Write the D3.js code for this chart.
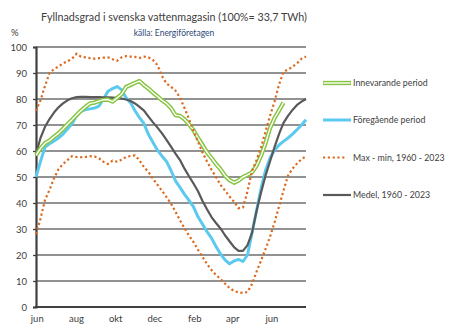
<!DOCTYPE html>
<html>
<head>
<meta charset="utf-8">
<script src="https://cdn.jsdelivr.net/npm/d3@7"></script>
<style>
  body { margin: 0; background: #fff; }
  svg { display: block; }
  text { font-family: Lato, "Open Sans", sans-serif; }
</style>
</head>
<body>
<div id="chart"></div>
<script>
// Weekly values, week 0 = first week of june
const innevarande = [58.3, 61, 63, 64, 65.5, 66.8, 68.5, 70.3, 72, 73.8, 75.5, 77, 78.3, 78.6, 79.2, 79.7,
    79.8, 79, 80.4, 81.8, 84.6, 85.4, 86.2, 86.9, 85.3, 84, 82.4, 81, 79.5, 78.3, 76.5, 73.8,
    73.5, 72.2, 70.3, 68, 65, 62.3, 59.5, 57.3, 55, 53, 50.5, 48.8, 47.8, 48.6, 50, 50.8,
    51.8, 54.3, 58.2, 63, 68.8, 72.6, 75.6, 78.6];
const foregaende = [50, 56, 61.5, 62.8, 63.8, 65, 66.5, 68.5, 70.5, 73.5, 75.3, 75.9, 76.2, 76.5, 77.3, 80,
    83, 84, 84.8, 83.6, 80.5, 78.6, 75.5, 72.8, 70.5, 66.3, 63.3, 60.3, 58, 56, 52.5, 48.5,
    46, 43.3, 41, 38.5, 34.7, 31.8, 29, 26.5, 23.3, 20.4, 18.1, 16.6, 17.7, 18.3, 17.5, 20,
    28.5, 37, 45.5, 52.5, 57.3, 60.3, 62.3, 63.7, 65, 66.5, 68.2, 70, 72];
const maxVarde = [75.5, 79.5, 85, 90, 91.5, 92.5, 93.7, 94.5, 95.5, 97.4, 96.3, 96, 95.7, 95.5, 95.7, 95.9,
    96, 95.3, 94.7, 96, 96.5, 96.3, 96.2, 95.8, 96.3, 96, 95, 93, 88.8, 86, 84.7, 83.2,
    80.5, 76.5, 72.3, 67.8, 63.6, 59.4, 56, 52.8, 50, 47, 44.8, 42.5, 40.5, 38, 38.3, 44.5,
    52.3, 56.5, 61.3, 67.5, 73.5, 79, 85.5, 90.5, 91.3, 92.4, 93.7, 95.5, 96.3];
const minVarde = [28, 34, 41.2, 45, 49.5, 53, 55, 56.5, 58, 57.7, 57.6, 57.7, 58, 57.9, 57.2, 55.8,
    55, 56.3, 55.9, 56.6, 57.7, 58.1, 58.3, 56.4, 53.8, 51.9, 49.3, 47, 44.7, 42.3, 39.8, 36.6,
    33.3, 30.3, 27.5, 25, 22, 19.3, 16.5, 14.2, 12.3, 10.8, 9, 7.3, 6.2, 5.6, 5.4, 5.8,
    8.8, 13.5, 17.8, 22.3, 27, 32.5, 38.6, 44.8, 50.5, 53.2, 55.2, 56.8, 58];
const medel = [59, 65, 69.3, 72.3, 74.8, 76.8, 78.3, 79.5, 80.3, 80.7, 80.8, 80.8, 80.7, 80.7, 80.7, 80.6,
    80.6, 80.5, 80.4, 80.2, 79.8, 79.2, 78.3, 77, 75.5, 73.2, 71, 69, 66.8, 64.3, 61.7, 59,
    56.5, 53.2, 50.3, 47.5, 44.5, 40.8, 37.6, 34.6, 32.3, 30.2, 27.6, 25.3, 23, 21.6, 21.6, 23.8,
    28.5, 36.8, 44, 50.5, 56, 61.5, 66.5, 70.8, 73.5, 75.8, 77.7, 79, 80];

const monthLabels = ["jun", "aug", "okt", "dec", "feb", "apr", "jun"];
const monthDays = [2, 63, 124, 185, 247, 306, 367]; // days from start of june
const yTicks = d3.range(0, 101, 10);

const legendNames = ["Innevarande period", "Föregående period", "Max - min, 1960 - 2023", "Medel, 1960 - 2023"];

const width = 464, height = 334;
const margin = { left: 36, right: 158, top: 47, bottom: 27 };

const svg = d3.select("#chart").append("svg")
    .attr("width", width)
    .attr("height", height)
    .style("background", "#fff");

const x = d3.scaleLinear().domain([0, 420]).range([margin.left, width - margin.right]);
const y = d3.scaleLinear().domain([0, 100]).range([height - margin.bottom, margin.top]);

// titles
svg.append("text")
    .attr("x", 174).attr("y", 21)
    .attr("text-anchor", "middle")
    .attr("font-size", 11)
    .attr("textLength", 266)
    .attr("lengthAdjust", "spacingAndGlyphs")
    .attr("fill", "#404040")
    .text("Fyllnadsgrad i svenska vattenmagasin (100%= 33,7 TWh)");

svg.append("text")
    .attr("x", 174).attr("y", 35.5)
    .attr("text-anchor", "middle")
    .attr("font-size", 8.5)
    .attr("fill", "#2e4a7a")
    .text("källa: Energiföretagen");

svg.append("text")
    .attr("x", 11).attr("y", 36)
    .attr("font-size", 9.5)
    .attr("fill", "#404040")
    .text("%");

// gridlines
svg.append("g")
    .selectAll("line")
    .data(yTicks.filter(d => d > 0))
    .join("line")
    .attr("x1", x(0)).attr("x2", x(420))
    .attr("y1", d => y(d)).attr("y2", d => y(d))
    .attr("stroke", "#6e6e6e")
    .attr("stroke-width", 1.3);

// y axis
const yAxis = svg.append("g")
    .attr("transform", `translate(${x(0)},0)`)
    .call(d3.axisLeft(y).tickValues(yTicks).tickSize(3).tickPadding(6).tickFormat(d3.format("d")));
yAxis.select(".domain").attr("stroke", "#404040").attr("stroke-width", 2.2);
yAxis.selectAll(".tick line").attr("stroke", "#404040").attr("stroke-width", 1.3);
yAxis.selectAll(".tick text")
    .attr("font-family", "Lato, 'Open Sans', sans-serif")
    .attr("font-size", 9.5)
    .attr("fill", "#404040");

// x axis line at zero
svg.append("line")
    .attr("x1", x(0) - 1).attr("x2", x(420))
    .attr("y1", y(0)).attr("y2", y(0))
    .attr("stroke", "#404040")
    .attr("stroke-width", 2.2);

svg.append("g")
    .selectAll("text")
    .data(monthLabels)
    .join("text")
    .attr("x", (d, i) => x(monthDays[i]))
    .attr("y", height - 12)
    .attr("text-anchor", "middle")
    .attr("font-size", 9.5)
    .attr("fill", "#404040")
    .text(d => d);

const line = d3.line()
    .x((d, i) => x(i * 7))
    .y(d => y(d));

const plot = svg.append("g").attr("fill", "none");

plot.append("path")
    .attr("d", line(foregaende))
    .attr("stroke", "#5cc9ee")
    .attr("stroke-width", 3)
    .attr("stroke-linejoin", "round");

plot.append("path")
    .attr("d", line(medel))
    .attr("stroke", "#595959")
    .attr("stroke-width", 2.2)
    .attr("stroke-linejoin", "round");

// double line for the current period
plot.append("path")
    .attr("d", line(innevarande))
    .attr("stroke", "#86c440")
    .attr("stroke-width", 4.3)
    .attr("stroke-linejoin", "round");
plot.append("path")
    .attr("d", line(innevarande))
    .attr("stroke", "#fff")
    .attr("stroke-width", 1.4)
    .attr("stroke-linejoin", "round");

[maxVarde, minVarde].forEach(serie => {
    plot.append("path")
        .attr("d", line(serie))
        .attr("stroke", "#dc6a1e")
        .attr("stroke-width", 2.2)
        .attr("stroke-dasharray", "2.2 2.6");
});

// legend
const legend = svg.append("g").attr("transform", "translate(323,0)");
const legendY = [83, 120, 157.5, 195];

legendNames.forEach((name, i) => {
    const g = legend.append("g").attr("transform", `translate(0,${legendY[i]})`);
    if (i === 0) {
        g.append("line").attr("x1", 0).attr("x2", 28).attr("stroke", "#86c440").attr("stroke-width", 4.3);
        g.append("line").attr("x1", 0.5).attr("x2", 27.5).attr("stroke", "#fff").attr("stroke-width", 1.4);
    } else if (i === 1) {
        g.append("line").attr("x1", 0).attr("x2", 28).attr("stroke", "#5cc9ee").attr("stroke-width", 3);
    } else if (i === 2) {
        g.append("line").attr("x1", 0).attr("x2", 23).attr("stroke", "#dc6a1e")
            .attr("stroke-width", 2.2).attr("stroke-dasharray", "2.2 2.6");
    } else {
        g.append("line").attr("x1", 0).attr("x2", 28).attr("stroke", "#595959").attr("stroke-width", 2.2);
    }
    g.append("text")
        .attr("x", 30).attr("dy", "0.35em")
        .attr("font-size", 8.8)
        .attr("fill", "#404040")
        .text(name);
});
</script>
</body>
</html>
